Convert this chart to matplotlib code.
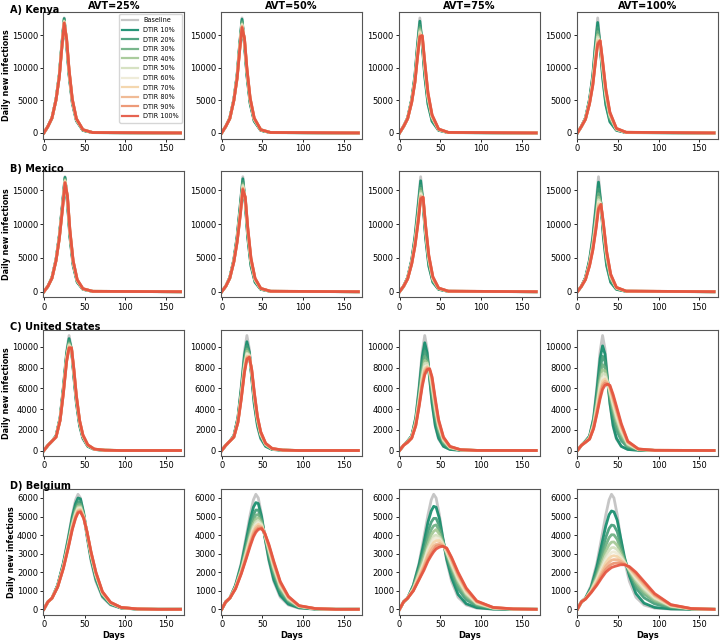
import numpy as np
import matplotlib.pyplot as plt
from matplotlib.ticker import MultipleLocator

days_kenya = [0, 5, 10, 15, 19, 22, 25, 28, 31, 35, 40, 48, 60, 168]
days_mexico = [0, 5, 10, 15, 19, 23, 26, 29, 32, 36, 41, 48, 60, 168]
days_us = [0, 5, 10, 15, 20, 24, 28, 31, 34, 37, 40, 44, 48, 54, 62, 75, 95, 168]
days_belgium = [0, 5, 10, 17, 24, 30, 35, 39, 42, 45, 49, 53, 58, 64, 72, 82, 95, 115, 140, 168]

# daily new infections in thousands; rows are DTIR 10% ... DTIR 100%
kenya_baseline = [0, 1.0, 2.3, 5.2, 9.0, 13.6, 17.7, 13.5, 8.8, 4.5, 1.8, 0.4, 0.05, 0]
kenya_avt25 = [
    [0, 1.0, 2.3, 5.2, 9.0, 13.5, 17.6, 13.6, 8.9, 4.6, 1.9, 0.4, 0.05, 0],
    [0, 1.0, 2.3, 5.2, 8.9, 13.4, 17.4, 13.8, 9.1, 4.8, 2.0, 0.4, 0.05, 0],
    [0, 1.0, 2.3, 5.2, 8.8, 13.2, 17.3, 14.0, 9.3, 4.9, 2.0, 0.4, 0.05, 0],
    [0, 1.0, 2.3, 5.1, 8.8, 13.2, 17.2, 14.1, 9.4, 4.9, 2.1, 0.5, 0.06, 0],
    [0, 1.0, 2.3, 5.1, 8.7, 13.1, 17.1, 14.2, 9.5, 5.0, 2.1, 0.5, 0.06, 0],
    [0, 1.0, 2.3, 5.1, 8.7, 13.1, 17.1, 14.3, 9.5, 5.0, 2.1, 0.5, 0.06, 0],
    [0, 1.0, 2.3, 5.1, 8.7, 13.0, 17.0, 14.3, 9.6, 5.1, 2.1, 0.5, 0.06, 0],
    [0, 1.0, 2.3, 5.1, 8.7, 13.0, 17.0, 14.4, 9.7, 5.1, 2.2, 0.5, 0.06, 0],
    [0, 1.0, 2.3, 5.1, 8.6, 12.9, 16.9, 14.4, 9.7, 5.2, 2.2, 0.5, 0.06, 0],
    [0, 1.0, 2.3, 5.1, 8.6, 12.9, 16.9, 14.5, 9.8, 5.2, 2.2, 0.5, 0.06, 0],
]
kenya_avt50 = [
    [0, 1.0, 2.3, 5.2, 9.0, 13.5, 17.5, 13.6, 8.8, 4.5, 1.8, 0.4, 0.05, 0],
    [0, 1.0, 2.3, 5.2, 8.9, 13.3, 17.2, 13.9, 9.1, 4.7, 1.9, 0.4, 0.06, 0],
    [0, 1.0, 2.3, 5.1, 8.7, 13.1, 17.0, 14.0, 9.3, 4.9, 2.0, 0.4, 0.06, 0],
    [0, 1.0, 2.2, 5.1, 8.7, 13.0, 16.8, 14.2, 9.5, 5.0, 2.1, 0.5, 0.06, 0],
    [0, 1.0, 2.2, 5.1, 8.6, 12.9, 16.7, 14.3, 9.6, 5.1, 2.1, 0.5, 0.06, 0],
    [0, 1.0, 2.2, 5.1, 8.6, 12.8, 16.6, 14.3, 9.7, 5.2, 2.2, 0.5, 0.06, 0],
    [0, 1.0, 2.2, 5.0, 8.5, 12.7, 16.5, 14.4, 9.8, 5.2, 2.2, 0.5, 0.07, 0],
    [0, 1.0, 2.2, 5.0, 8.5, 12.6, 16.4, 14.5, 9.8, 5.3, 2.2, 0.5, 0.07, 0],
    [0, 1.0, 2.2, 5.0, 8.4, 12.6, 16.3, 14.5, 9.9, 5.3, 2.3, 0.5, 0.07, 0],
    [0, 1.0, 2.2, 5.0, 8.4, 12.5, 16.2, 14.6, 10.0, 5.4, 2.3, 0.5, 0.07, 0],
]
kenya_avt75 = [
    [0, 1.0, 2.3, 5.2, 8.9, 13.4, 17.2, 13.5, 8.7, 4.4, 1.8, 0.4, 0.05, 0],
    [0, 1.0, 2.3, 5.1, 8.6, 12.9, 16.6, 13.9, 9.3, 4.9, 2.1, 0.45, 0.06, 0],
    [0, 1.0, 2.3, 5.0, 8.4, 12.6, 16.2, 14.1, 9.7, 5.2, 2.2, 0.5, 0.06, 0],
    [0, 1.0, 2.2, 4.9, 8.3, 12.4, 15.9, 14.3, 10.0, 5.4, 2.4, 0.5, 0.07, 0],
    [0, 1.0, 2.2, 4.9, 8.2, 12.2, 15.6, 14.5, 10.2, 5.6, 2.5, 0.5, 0.07, 0],
    [0, 1.0, 2.2, 4.8, 8.1, 12.0, 15.4, 14.6, 10.4, 5.7, 2.5, 0.55, 0.07, 0],
    [0, 1.0, 2.2, 4.8, 8.0, 11.9, 15.3, 14.7, 10.5, 5.8, 2.6, 0.55, 0.07, 0],
    [0, 1.0, 2.2, 4.8, 7.9, 11.7, 15.1, 14.8, 10.7, 6.0, 2.7, 0.6, 0.08, 0],
    [0, 1.0, 2.2, 4.7, 7.8, 11.6, 14.9, 14.9, 10.9, 6.1, 2.7, 0.6, 0.08, 0],
    [0, 1.0, 2.2, 4.7, 7.8, 11.5, 14.8, 15.0, 11.0, 6.2, 2.8, 0.6, 0.08, 0],
]
kenya_avt100 = [
    [0, 1.0, 2.3, 5.2, 8.9, 13.3, 17.0, 13.4, 8.6, 4.3, 1.7, 0.4, 0.05, 0],
    [0, 1.0, 2.3, 5.0, 8.5, 12.6, 16.2, 13.6, 9.3, 4.9, 2.1, 0.5, 0.06, 0],
    [0, 1.0, 2.2, 4.9, 8.2, 12.2, 15.6, 13.7, 9.7, 5.4, 2.3, 0.5, 0.07, 0],
    [0, 1.0, 2.2, 4.8, 8.0, 11.8, 15.1, 13.8, 10.0, 5.7, 2.5, 0.55, 0.08, 0],
    [0, 1.0, 2.2, 4.7, 7.9, 11.5, 14.8, 13.9, 10.3, 5.9, 2.7, 0.6, 0.08, 0],
    [0, 1.0, 2.2, 4.7, 7.7, 11.3, 14.5, 14.0, 10.5, 6.1, 2.8, 0.6, 0.09, 0],
    [0, 1.0, 2.1, 4.6, 7.6, 11.1, 14.3, 14.0, 10.7, 6.3, 2.9, 0.6, 0.09, 0],
    [0, 1.0, 2.1, 4.6, 7.5, 10.9, 14.0, 14.1, 10.9, 6.5, 3.0, 0.65, 0.09, 0],
    [0, 1.0, 2.1, 4.5, 7.4, 10.7, 13.8, 14.2, 11.1, 6.7, 3.1, 0.7, 0.1, 0],
    [0, 1.0, 2.1, 4.5, 7.3, 10.6, 13.6, 14.2, 11.2, 6.8, 3.2, 0.7, 0.1, 0],
]

mexico_baseline = [0, 0.8, 2.1, 4.8, 8.3, 13.2, 17.0, 13.0, 8.0, 3.8, 1.4, 0.35, 0.05, 0]
mexico_avt25 = [
    [0, 0.8, 2.1, 4.8, 8.3, 13.1, 16.9, 13.1, 8.1, 3.9, 1.4, 0.35, 0.05, 0],
    [0, 0.8, 2.1, 4.8, 8.2, 12.9, 16.7, 13.4, 8.4, 4.1, 1.5, 0.38, 0.05, 0],
    [0, 0.8, 2.1, 4.7, 8.1, 12.8, 16.6, 13.6, 8.6, 4.2, 1.6, 0.39, 0.05, 0],
    [0, 0.8, 2.0, 4.7, 8.0, 12.7, 16.5, 13.7, 8.7, 4.3, 1.6, 0.4, 0.06, 0],
    [0, 0.8, 2.0, 4.7, 8.0, 12.6, 16.4, 13.8, 8.8, 4.4, 1.7, 0.42, 0.06, 0],
    [0, 0.8, 2.0, 4.7, 7.9, 12.5, 16.3, 13.9, 8.9, 4.4, 1.7, 0.42, 0.06, 0],
    [0, 0.8, 2.0, 4.6, 7.9, 12.5, 16.3, 14.0, 9.0, 4.5, 1.7, 0.43, 0.06, 0],
    [0, 0.8, 2.0, 4.6, 7.9, 12.4, 16.2, 14.1, 9.1, 4.5, 1.7, 0.44, 0.06, 0],
    [0, 0.8, 2.0, 4.6, 7.8, 12.3, 16.1, 14.1, 9.1, 4.6, 1.8, 0.45, 0.06, 0],
    [0, 0.8, 2.0, 4.6, 7.8, 12.3, 16.1, 14.2, 9.2, 4.6, 1.8, 0.45, 0.06, 0],
]
mexico_avt50 = [
    [0, 0.8, 2.1, 4.8, 8.2, 13.0, 16.7, 13.0, 8.0, 3.8, 1.4, 0.35, 0.05, 0],
    [0, 0.8, 2.1, 4.7, 8.0, 12.6, 16.3, 13.3, 8.4, 4.1, 1.6, 0.39, 0.06, 0],
    [0, 0.8, 2.1, 4.6, 7.8, 12.3, 16.0, 13.4, 8.7, 4.3, 1.7, 0.41, 0.06, 0],
    [0, 0.8, 2.0, 4.6, 7.7, 12.1, 15.8, 13.6, 8.9, 4.5, 1.7, 0.43, 0.06, 0],
    [0, 0.8, 2.0, 4.5, 7.6, 12.0, 15.7, 13.7, 9.0, 4.6, 1.8, 0.45, 0.06, 0],
    [0, 0.8, 2.0, 4.5, 7.5, 11.8, 15.5, 13.7, 9.2, 4.7, 1.8, 0.46, 0.06, 0],
    [0, 0.8, 2.0, 4.5, 7.5, 11.7, 15.4, 13.8, 9.3, 4.8, 1.9, 0.47, 0.07, 0],
    [0, 0.8, 2.0, 4.5, 7.4, 11.6, 15.3, 13.9, 9.4, 4.8, 1.9, 0.48, 0.07, 0],
    [0, 0.8, 2.0, 4.4, 7.4, 11.5, 15.2, 13.9, 9.5, 4.9, 2.0, 0.49, 0.07, 0],
    [0, 0.8, 2.0, 4.4, 7.3, 11.4, 15.1, 14.0, 9.6, 5.0, 2.0, 0.5, 0.07, 0],
]
mexico_avt75 = [
    [0, 0.8, 2.1, 4.7, 8.1, 12.8, 16.4, 13.0, 8.0, 3.8, 1.4, 0.35, 0.05, 0],
    [0, 0.8, 2.1, 4.6, 7.8, 12.2, 15.7, 13.3, 8.5, 4.2, 1.6, 0.4, 0.06, 0],
    [0, 0.8, 2.0, 4.4, 7.5, 11.7, 15.3, 13.4, 8.8, 4.5, 1.7, 0.43, 0.06, 0],
    [0, 0.8, 2.0, 4.4, 7.3, 11.4, 14.9, 13.6, 9.0, 4.7, 1.8, 0.46, 0.07, 0],
    [0, 0.8, 2.0, 4.3, 7.2, 11.2, 14.6, 13.7, 9.2, 4.8, 1.9, 0.48, 0.07, 0],
    [0, 0.8, 2.0, 4.3, 7.1, 11.0, 14.4, 13.7, 9.4, 5.0, 2.0, 0.5, 0.07, 0],
    [0, 0.8, 1.9, 4.2, 7.0, 10.8, 14.2, 13.8, 9.5, 5.1, 2.0, 0.51, 0.07, 0],
    [0, 0.8, 1.9, 4.2, 6.9, 10.6, 14.1, 13.9, 9.7, 5.2, 2.1, 0.52, 0.08, 0],
    [0, 0.8, 1.9, 4.1, 6.8, 10.5, 13.9, 13.9, 9.8, 5.3, 2.2, 0.54, 0.08, 0],
    [0, 0.8, 1.9, 4.1, 6.7, 10.3, 13.7, 14.0, 9.9, 5.4, 2.2, 0.55, 0.08, 0],
]
mexico_avt100 = [
    [0, 0.8, 2.1, 4.7, 8.0, 12.6, 16.2, 13.0, 8.1, 3.9, 1.4, 0.35, 0.05, 0],
    [0, 0.8, 2.0, 4.5, 7.5, 11.8, 15.2, 13.0, 8.6, 4.4, 1.7, 0.43, 0.06, 0],
    [0, 0.8, 2.0, 4.3, 7.2, 11.2, 14.5, 13.0, 9.0, 4.8, 1.9, 0.48, 0.07, 0],
    [0, 0.8, 1.9, 4.2, 7.0, 10.8, 14.0, 13.0, 9.3, 5.1, 2.1, 0.52, 0.07, 0],
    [0, 0.8, 1.9, 4.1, 6.8, 10.5, 13.6, 12.9, 9.5, 5.3, 2.2, 0.55, 0.08, 0],
    [0, 0.8, 1.9, 4.0, 6.6, 10.2, 13.3, 12.9, 9.6, 5.4, 2.3, 0.57, 0.08, 0],
    [0, 0.8, 1.9, 4.0, 6.5, 10.0, 13.0, 12.9, 9.8, 5.6, 2.4, 0.59, 0.08, 0],
    [0, 0.8, 1.8, 3.9, 6.3, 9.7, 12.7, 12.9, 9.9, 5.7, 2.4, 0.61, 0.09, 0],
    [0, 0.8, 1.8, 3.9, 6.2, 9.5, 12.4, 12.9, 10.1, 5.9, 2.5, 0.63, 0.09, 0],
    [0, 0.8, 1.8, 3.8, 6.1, 9.3, 12.2, 12.9, 10.2, 6.0, 2.6, 0.65, 0.09, 0],
]

us_baseline = [0, 0.5, 0.9, 1.4, 3.2, 6.2, 9.6, 11.1, 9.8, 7.0, 4.5, 2.3, 1.1, 0.4, 0.1, 0.02, 0, 0]
us_avt25 = [
    [0, 0.5, 0.9, 1.4, 3.2, 6.1, 9.4, 10.8, 9.7, 7.0, 4.6, 2.4, 1.2, 0.4, 0.1, 0.02, 0, 0],
    [0, 0.5, 0.9, 1.4, 3.1, 6.0, 9.2, 10.6, 9.8, 7.2, 4.8, 2.5, 1.3, 0.44, 0.11, 0.02, 0, 0],
    [0, 0.5, 0.9, 1.4, 3.1, 5.9, 9.1, 10.4, 9.8, 7.3, 4.9, 2.6, 1.3, 0.46, 0.12, 0.02, 0, 0],
    [0, 0.5, 0.9, 1.3, 3.0, 5.8, 9.0, 10.3, 9.8, 7.4, 5.0, 2.7, 1.4, 0.48, 0.12, 0.03, 0, 0],
    [0, 0.5, 0.9, 1.3, 3.0, 5.7, 8.9, 10.2, 9.8, 7.5, 5.1, 2.7, 1.4, 0.5, 0.13, 0.03, 0, 0],
    [0, 0.5, 0.9, 1.3, 3.0, 5.7, 8.8, 10.1, 9.8, 7.6, 5.1, 2.8, 1.4, 0.51, 0.13, 0.03, 0, 0],
    [0, 0.5, 0.9, 1.3, 3.0, 5.6, 8.8, 10.1, 9.9, 7.6, 5.2, 2.8, 1.4, 0.52, 0.13, 0.03, 0, 0],
    [0, 0.5, 0.9, 1.3, 2.9, 5.6, 8.7, 10.0, 9.9, 7.7, 5.2, 2.8, 1.5, 0.53, 0.13, 0.03, 0, 0],
    [0, 0.5, 0.9, 1.3, 2.9, 5.5, 8.6, 9.9, 9.9, 7.8, 5.3, 2.9, 1.5, 0.54, 0.14, 0.03, 0, 0],
    [0, 0.5, 0.9, 1.3, 2.9, 5.5, 8.6, 9.9, 9.9, 7.8, 5.3, 2.9, 1.5, 0.55, 0.14, 0.03, 0, 0],
]
us_avt50 = [
    [0, 0.5, 0.9, 1.4, 3.2, 6.0, 9.2, 10.5, 9.5, 6.9, 4.5, 2.4, 1.2, 0.4, 0.1, 0.02, 0, 0],
    [0, 0.5, 0.9, 1.4, 3.1, 5.7, 8.8, 10.1, 9.4, 7.1, 4.8, 2.6, 1.4, 0.48, 0.13, 0.03, 0, 0],
    [0, 0.5, 0.9, 1.4, 3.0, 5.5, 8.5, 9.8, 9.3, 7.3, 5.0, 2.8, 1.5, 0.53, 0.14, 0.03, 0, 0],
    [0, 0.5, 0.9, 1.3, 2.9, 5.4, 8.3, 9.6, 9.2, 7.4, 5.2, 2.9, 1.5, 0.57, 0.16, 0.03, 0, 0],
    [0, 0.5, 0.9, 1.3, 2.9, 5.3, 8.1, 9.4, 9.2, 7.5, 5.3, 3.0, 1.6, 0.6, 0.17, 0.03, 0, 0],
    [0, 0.5, 0.9, 1.3, 2.8, 5.2, 8.0, 9.3, 9.1, 7.6, 5.4, 3.1, 1.6, 0.62, 0.17, 0.03, 0, 0],
    [0, 0.5, 0.9, 1.3, 2.8, 5.1, 7.8, 9.1, 9.1, 7.6, 5.5, 3.1, 1.7, 0.64, 0.18, 0.04, 0, 0],
    [0, 0.5, 0.9, 1.3, 2.8, 5.0, 7.7, 9.0, 9.1, 7.7, 5.5, 3.2, 1.7, 0.66, 0.19, 0.04, 0, 0],
    [0, 0.5, 0.9, 1.3, 2.7, 5.0, 7.6, 8.9, 9.0, 7.7, 5.6, 3.2, 1.8, 0.68, 0.19, 0.04, 0, 0],
    [0, 0.5, 0.9, 1.3, 2.7, 4.9, 7.5, 8.8, 9.0, 7.8, 5.7, 3.3, 1.8, 0.7, 0.2, 0.04, 0, 0],
]
us_avt75 = [
    [0, 0.5, 0.9, 1.4, 3.2, 5.9, 9.1, 10.4, 9.4, 6.9, 4.6, 2.4, 1.2, 0.4, 0.1, 0.02, 0, 0],
    [0, 0.5, 0.9, 1.4, 3.0, 5.5, 8.4, 9.6, 9.0, 7.2, 5.2, 3.1, 1.7, 0.63, 0.18, 0.04, 0, 0],
    [0, 0.5, 0.9, 1.3, 2.9, 5.2, 7.9, 9.1, 8.7, 7.3, 5.7, 3.5, 2.0, 0.78, 0.23, 0.05, 0, 0],
    [0, 0.5, 0.9, 1.3, 2.8, 5.0, 7.5, 8.7, 8.5, 7.5, 6.0, 3.8, 2.2, 0.9, 0.27, 0.05, 0.01, 0],
    [0, 0.5, 0.8, 1.3, 2.7, 4.8, 7.2, 8.4, 8.4, 7.6, 6.2, 4.1, 2.4, 0.99, 0.3, 0.06, 0.01, 0],
    [0, 0.5, 0.8, 1.3, 2.6, 4.7, 7.0, 8.1, 8.2, 7.6, 6.4, 4.3, 2.5, 1.06, 0.32, 0.06, 0.01, 0],
    [0, 0.5, 0.8, 1.2, 2.6, 4.5, 6.8, 7.9, 8.1, 7.7, 6.6, 4.5, 2.6, 1.12, 0.34, 0.07, 0.01, 0],
    [0, 0.5, 0.8, 1.2, 2.5, 4.4, 6.6, 7.7, 8.0, 7.8, 6.8, 4.7, 2.8, 1.18, 0.36, 0.07, 0.01, 0],
    [0, 0.5, 0.8, 1.2, 2.4, 4.3, 6.4, 7.5, 7.9, 7.8, 7.0, 4.8, 2.9, 1.25, 0.38, 0.08, 0.01, 0],
    [0, 0.5, 0.8, 1.2, 2.4, 4.2, 6.2, 7.3, 7.8, 7.9, 7.1, 5.0, 3.0, 1.3, 0.4, 0.08, 0.01, 0],
]
us_avt100 = [
    [0, 0.5, 0.9, 1.4, 3.1, 5.8, 8.9, 10.1, 9.3, 6.9, 4.6, 2.4, 1.2, 0.4, 0.1, 0.02, 0, 0],
    [0, 0.5, 0.9, 1.3, 2.9, 5.2, 7.9, 9.1, 8.6, 6.8, 5.0, 3.2, 2.0, 0.95, 0.3, 0.05, 0.01, 0],
    [0, 0.5, 0.9, 1.3, 2.7, 4.8, 7.3, 8.3, 8.0, 6.7, 5.3, 3.7, 2.5, 1.32, 0.44, 0.07, 0.01, 0],
    [0, 0.5, 0.8, 1.2, 2.6, 4.5, 6.8, 7.8, 7.7, 6.6, 5.5, 4.1, 2.9, 1.61, 0.54, 0.09, 0.01, 0],
    [0, 0.5, 0.8, 1.2, 2.5, 4.3, 6.4, 7.4, 7.4, 6.6, 5.7, 4.4, 3.2, 1.83, 0.62, 0.1, 0.01, 0],
    [0, 0.5, 0.8, 1.2, 2.4, 4.1, 6.1, 7.0, 7.1, 6.5, 5.8, 4.6, 3.5, 2.01, 0.68, 0.11, 0.01, 0],
    [0, 0.5, 0.8, 1.2, 2.3, 4.0, 5.8, 6.7, 6.9, 6.5, 6.0, 4.8, 3.7, 2.16, 0.74, 0.12, 0.02, 0],
    [0, 0.5, 0.8, 1.1, 2.2, 3.8, 5.5, 6.4, 6.7, 6.5, 6.1, 5.0, 3.9, 2.31, 0.8, 0.13, 0.02, 0],
    [0, 0.5, 0.8, 1.1, 2.2, 3.6, 5.2, 6.2, 6.5, 6.4, 6.2, 5.2, 4.1, 2.47, 0.85, 0.14, 0.02, 0],
    [0, 0.5, 0.8, 1.1, 2.1, 3.5, 5.0, 5.9, 6.3, 6.4, 6.3, 5.4, 4.3, 2.6, 0.9, 0.15, 0.02, 0],
]

belgium_baseline = [0, 0.4, 0.6, 1.3, 2.5, 3.9, 5.1, 5.9, 6.2, 6.0, 5.1, 3.9, 2.6, 1.5, 0.65, 0.23, 0.06, 0.01, 0, 0]
belgium_avt25 = [
    [0, 0.4, 0.6, 1.3, 2.5, 3.8, 5.0, 5.7, 6.0, 5.95, 5.2, 4.0, 2.7, 1.6, 0.7, 0.26, 0.07, 0.01, 0, 0],
    [0, 0.4, 0.6, 1.3, 2.4, 3.7, 4.8, 5.5, 5.8, 5.8, 5.1, 4.1, 2.8, 1.7, 0.76, 0.29, 0.08, 0.01, 0, 0],
    [0, 0.4, 0.6, 1.26, 2.37, 3.59, 4.71, 5.36, 5.66, 5.66, 5.07, 4.08, 2.87, 1.77, 0.8, 0.31, 0.08, 0.01, 0, 0],
    [0, 0.4, 0.6, 1.25, 2.34, 3.53, 4.62, 5.26, 5.56, 5.57, 5.04, 4.11, 2.92, 1.82, 0.84, 0.33, 0.09, 0.02, 0, 0],
    [0, 0.4, 0.6, 1.24, 2.31, 3.48, 4.55, 5.18, 5.48, 5.5, 5.01, 4.13, 2.96, 1.86, 0.86, 0.34, 0.09, 0.02, 0, 0],
    [0, 0.4, 0.6, 1.23, 2.28, 3.44, 4.49, 5.12, 5.42, 5.44, 4.98, 4.15, 2.99, 1.89, 0.88, 0.35, 0.09, 0.02, 0, 0],
    [0, 0.4, 0.6, 1.22, 2.26, 3.4, 4.44, 5.06, 5.36, 5.39, 4.96, 4.16, 3.02, 1.92, 0.9, 0.36, 0.09, 0.02, 0, 0],
    [0, 0.4, 0.6, 1.21, 2.24, 3.37, 4.39, 5.0, 5.3, 5.34, 4.94, 4.17, 3.05, 1.95, 0.92, 0.36, 0.1, 0.02, 0, 0],
    [0, 0.4, 0.6, 1.21, 2.22, 3.33, 4.34, 4.95, 5.25, 5.29, 4.92, 4.19, 3.08, 1.98, 0.94, 0.37, 0.1, 0.02, 0, 0],
    [0, 0.4, 0.6, 1.2, 2.2, 3.3, 4.3, 4.9, 5.2, 5.25, 4.9, 4.2, 3.1, 2.0, 0.95, 0.38, 0.1, 0.02, 0, 0],
]
belgium_avt50 = [
    [0, 0.4, 0.6, 1.3, 2.4, 3.7, 4.8, 5.5, 5.75, 5.7, 5.0, 3.9, 2.7, 1.6, 0.75, 0.28, 0.08, 0.01, 0, 0],
    [0, 0.4, 0.6, 1.25, 2.28, 3.45, 4.45, 5.1, 5.35, 5.35, 4.84, 3.95, 2.9, 1.85, 0.94, 0.39, 0.11, 0.02, 0, 0],
    [0, 0.4, 0.6, 1.22, 2.19, 3.28, 4.21, 4.83, 5.08, 5.11, 4.73, 3.98, 3.04, 2.02, 1.07, 0.46, 0.13, 0.02, 0, 0],
    [0, 0.4, 0.6, 1.19, 2.13, 3.15, 4.03, 4.62, 4.87, 4.93, 4.64, 4.01, 3.14, 2.15, 1.16, 0.51, 0.15, 0.03, 0, 0],
    [0, 0.4, 0.6, 1.17, 2.08, 3.05, 3.89, 4.46, 4.71, 4.79, 4.58, 4.03, 3.22, 2.25, 1.24, 0.55, 0.16, 0.03, 0, 0],
    [0, 0.4, 0.6, 1.15, 2.04, 2.97, 3.78, 4.33, 4.58, 4.68, 4.53, 4.05, 3.28, 2.33, 1.3, 0.59, 0.17, 0.03, 0, 0],
    [0, 0.4, 0.6, 1.14, 2.0, 2.9, 3.68, 4.22, 4.47, 4.58, 4.48, 4.06, 3.34, 2.4, 1.35, 0.62, 0.18, 0.03, 0, 0],
    [0, 0.4, 0.6, 1.13, 1.97, 2.83, 3.58, 4.11, 4.36, 4.48, 4.43, 4.07, 3.4, 2.47, 1.4, 0.65, 0.18, 0.04, 0, 0],
    [0, 0.4, 0.6, 1.11, 1.93, 2.76, 3.48, 3.99, 4.25, 4.38, 4.39, 4.09, 3.45, 2.54, 1.46, 0.67, 0.19, 0.04, 0, 0],
    [0, 0.4, 0.6, 1.1, 1.9, 2.7, 3.4, 3.9, 4.15, 4.3, 4.35, 4.1, 3.5, 2.6, 1.5, 0.7, 0.2, 0.04, 0, 0],
]
belgium_avt75 = [
    [0, 0.4, 0.6, 1.3, 2.4, 3.6, 4.7, 5.3, 5.55, 5.5, 4.9, 3.9, 2.7, 1.7, 0.8, 0.3, 0.09, 0.01, 0, 0],
    [0, 0.4, 0.6, 1.2, 2.2, 3.2, 4.2, 4.7, 4.9, 4.9, 4.5, 3.8, 2.85, 1.98, 1.1, 0.51, 0.18, 0.03, 0.01, 0],
    [0, 0.4, 0.6, 1.2, 2.1, 3.0, 3.8, 4.3, 4.5, 4.55, 4.25, 3.7, 2.95, 2.16, 1.3, 0.66, 0.24, 0.05, 0.01, 0],
    [0, 0.4, 0.6, 1.1, 2.0, 2.8, 3.5, 4.0, 4.2, 4.3, 4.05, 3.6, 3.0, 2.3, 1.46, 0.77, 0.29, 0.06, 0.01, 0],
    [0, 0.4, 0.6, 1.1, 1.9, 2.6, 3.3, 3.7, 3.95, 4.0, 3.9, 3.6, 3.1, 2.4, 1.58, 0.85, 0.32, 0.07, 0.01, 0],
    [0, 0.4, 0.6, 1.1, 1.8, 2.5, 3.2, 3.55, 3.8, 3.85, 3.8, 3.5, 3.1, 2.5, 1.68, 0.92, 0.35, 0.08, 0.01, 0],
    [0, 0.4, 0.6, 1.1, 1.8, 2.4, 3.0, 3.4, 3.6, 3.7, 3.7, 3.5, 3.2, 2.6, 1.76, 0.98, 0.38, 0.08, 0.02, 0],
    [0, 0.4, 0.6, 1.0, 1.7, 2.3, 2.9, 3.2, 3.4, 3.5, 3.55, 3.45, 3.2, 2.65, 1.84, 1.04, 0.4, 0.09, 0.02, 0],
    [0, 0.4, 0.6, 1.0, 1.6, 2.2, 2.7, 3.0, 3.2, 3.4, 3.45, 3.4, 3.3, 2.75, 1.93, 1.1, 0.43, 0.1, 0.02, 0],
    [0, 0.4, 0.6, 1.0, 1.6, 2.1, 2.6, 2.9, 3.1, 3.25, 3.35, 3.4, 3.3, 2.8, 2.0, 1.15, 0.45, 0.1, 0.02, 0],
]
belgium_avt100 = [
    [0, 0.4, 0.6, 1.2, 2.3, 3.5, 4.5, 5.1, 5.3, 5.25, 4.8, 3.9, 2.8, 1.8, 0.85, 0.33, 0.1, 0.02, 0, 0],
    [0, 0.4, 0.59, 1.13, 2.05, 3.05, 3.88, 4.36, 4.54, 4.51, 4.19, 3.53, 2.7, 1.93, 1.14, 0.62, 0.29, 0.08, 0.01, 0],
    [0, 0.4, 0.58, 1.07, 1.88, 2.74, 3.45, 3.86, 4.02, 4.01, 3.77, 3.27, 2.63, 2.01, 1.33, 0.82, 0.42, 0.12, 0.02, 0],
    [0, 0.4, 0.57, 1.04, 1.75, 2.51, 3.13, 3.48, 3.62, 3.63, 3.45, 3.08, 2.58, 2.08, 1.48, 0.97, 0.51, 0.15, 0.02, 0],
    [0, 0.4, 0.57, 1.01, 1.65, 2.33, 2.88, 3.18, 3.32, 3.33, 3.21, 2.93, 2.54, 2.13, 1.6, 1.09, 0.59, 0.17, 0.03, 0],
    [0, 0.4, 0.56, 0.98, 1.57, 2.19, 2.68, 2.95, 3.07, 3.1, 3.01, 2.81, 2.51, 2.17, 1.69, 1.18, 0.65, 0.19, 0.03, 0],
    [0, 0.4, 0.56, 0.96, 1.5, 2.06, 2.5, 2.74, 2.86, 2.89, 2.84, 2.7, 2.48, 2.2, 1.77, 1.27, 0.7, 0.2, 0.03, 0],
    [0, 0.4, 0.56, 0.94, 1.43, 1.93, 2.33, 2.53, 2.65, 2.68, 2.67, 2.6, 2.45, 2.24, 1.85, 1.35, 0.75, 0.22, 0.03, 0],
    [0, 0.4, 0.55, 0.92, 1.36, 1.81, 2.15, 2.33, 2.43, 2.48, 2.5, 2.49, 2.42, 2.27, 1.93, 1.43, 0.8, 0.24, 0.04, 0],
    [0, 0.4, 0.55, 0.9, 1.3, 1.7, 2.0, 2.15, 2.25, 2.3, 2.35, 2.4, 2.4, 2.3, 2.0, 1.5, 0.85, 0.25, 0.04, 0],
]

country_titles = ['A) Kenya', 'B) Mexico', 'C) United States', 'D) Belgium']
avt_titles = ['AVT=25%', 'AVT=50%', 'AVT=75%', 'AVT=100%']
series_names = ['Baseline', 'DTIR 10%', 'DTIR 20%', 'DTIR 30%', 'DTIR 40%', 'DTIR 50%',
                'DTIR 60%', 'DTIR 70%', 'DTIR 80%', 'DTIR 90%', 'DTIR 100%']
series_colors = ['#b4b4b4', '#0f8a69', '#3f9b76', '#6aae80', '#a2c792', '#d3dfbd',
                 '#eeead5', '#f3d3a6', '#efb48b', '#eb8f6b', '#e4523e']
ytick_steps = [5000, 5000, 2000, 1000]

rows = [
    (days_kenya, kenya_baseline, [kenya_avt25, kenya_avt50, kenya_avt75, kenya_avt100]),
    (days_mexico, mexico_baseline, [mexico_avt25, mexico_avt50, mexico_avt75, mexico_avt100]),
    (days_us, us_baseline, [us_avt25, us_avt50, us_avt75, us_avt100]),
    (days_belgium, belgium_baseline, [belgium_avt25, belgium_avt50, belgium_avt75, belgium_avt100]),
]

fig, axes = plt.subplots(4, 4, figsize=(7.2, 6.4), dpi=100)
fig.subplots_adjust(left=0.06, right=0.997, top=0.981, bottom=0.039, wspace=0.26, hspace=0.255)

for r, (days, base, panels) in enumerate(rows):
    for c in range(4):
        ax = axes[r, c]
        curves = [base] + panels[c]
        for k, vals in enumerate(curves):
            ax.plot(days, np.array(vals) * 1000, color=series_colors[k],
                    lw=2.0, alpha=0.75 if k == 0 else 0.9, label=series_names[k])
        ax.set_xlim(-0.8, 172.7)
        ax.xaxis.set_major_locator(MultipleLocator(50))
        ax.yaxis.set_major_locator(MultipleLocator(ytick_steps[r]))
        ax.tick_params(labelsize=6, length=2.5, width=0.6, pad=1.2)
        for sp in ax.spines.values():
            sp.set_color('#555555')
            sp.set_linewidth(0.8)
        if r == 0:
            ax.set_title(avt_titles[c], fontsize=7, fontweight='bold', pad=2)
        if c == 0:
            ax.set_ylabel('Daily new infections', fontsize=5.8, fontweight='bold', labelpad=0.5)
        if r == 3:
            ax.set_xlabel('Days', fontsize=6, fontweight='bold', labelpad=1)
    # row title sitting just over the top-left corner of the row
    top = axes[r, 0].get_position().y1
    fig.text(0.014, top - 0.004, country_titles[r], fontsize=7, fontweight='bold', va='bottom')

leg = axes[0, 0].legend(loc='upper right', fontsize=4.7, handlelength=2.4, labelspacing=0.55,
                        borderpad=0.5, borderaxespad=0.3, frameon=True)
for line in leg.get_lines():
    line.set_linewidth(1.6)

fig.savefig('out.png', dpi=100)
